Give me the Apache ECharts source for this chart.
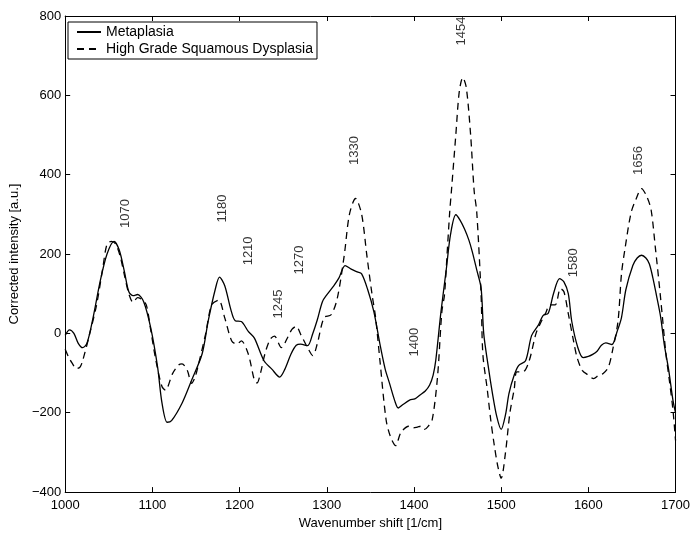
<!DOCTYPE html>
<html>
<head>
<meta charset="utf-8">
<script src="https://cdn.jsdelivr.net/npm/echarts@6/dist/echarts.min.js"></script>
<style>
html,body{margin:0;padding:0;background:#fff;}
#chart{width:693px;height:535px;}
</style>
</head>
<body>
<div id="chart"></div>
<script>
// Metaplasia (solid)
var metaX = [1000,1005,1010,1015,1020,1025,1032,1040,1048,1056,1062,1068,1073,1078,1083,1090,1098,1106,1111,1117,1122,1134,1145,1157,1164,1172,1177,1183,1190,1195,1202,1210,1217,1228,1237,1246,1252,1259,1265,1270,1278,1284,1289,1295,1300,1308,1314,1321,1328,1335,1340,1347,1354,1361,1367,1372,1378,1382,1387,1395,1401,1407,1413,1418,1422,1425,1431,1437,1442,1448,1453,1458,1463,1467,1472,1477,1480,1485,1490,1495,1500,1505,1509,1515,1520,1528,1535,1543,1548,1554,1560,1567,1572,1577,1581,1588,1594,1600,1605,1610,1615,1620,1627,1633,1638,1643,1651,1656,1661,1666,1670,1674,1678,1683,1687,1692,1697,1700];
var metaY = [-5,9,0,-25,-36,-25,40,130,200,232,210,155,105,95,98,80,15,-85,-175,-224,-220,-176,-118,-52,31,110,142,120,60,32,30,5,-12,-69,-90,-110,-90,-52,-30,-27,-31,0,33,80,97,120,140,171,162,155,150,110,55,-27,-90,-126,-170,-188,-180,-168,-165,-155,-145,-130,-105,-68,55,160,250,299,285,263,235,205,160,114,0,-80,-151,-210,-242,-205,-151,-105,-81,-69,-5,22,45,51,100,138,130,100,30,-36,-61,-58,-53,-45,-30,-24,-28,5,40,110,171,190,197,190,175,140,97,40,-27,-90,-168,-200];
// High Grade Squamous Dysplasia (dashed)
var hgsdX = [1000,1004,1008,1013,1017,1020,1028,1036,1043,1048,1053,1058,1063,1068,1073,1078,1083,1088,1093,1098,1104,1111,1115,1123,1130,1134,1140,1145,1149,1153,1161,1168,1176,1183,1191,1197,1202,1210,1217,1220,1224,1229,1235,1240,1248,1255,1260,1265,1270,1278,1284,1289,1297,1305,1312,1320,1326,1333,1340,1346,1352,1356,1361,1368,1373,1379,1385,1394,1399,1404,1408,1412,1416,1421,1427,1432,1435,1438,1441,1443,1448,1452,1456,1460,1465,1469,1472,1477,1479,1484,1488,1492,1496,1500,1505,1510,1515,1518,1525,1532,1540,1546,1551,1556,1562,1568,1572,1577,1583,1587,1593,1600,1606,1612,1617,1623,1628,1634,1638,1642,1649,1655,1661,1667,1672,1677,1681,1685,1689,1693,1697,1700];
var hgsdY = [-40,-60,-75,-89,-85,-69,-2,72,163,225,232,225,195,146,100,78,90,85,72,10,-68,-134,-143,-102,-80,-77,-93,-126,-110,-77,-2,72,84,39,-19,-27,-19,-52,-118,-125,-100,-52,-15,-7,-36,-11,10,18,-2,-36,-56,-27,40,47,88,196,300,340,300,196,97,40,-69,-217,-260,-283,-250,-234,-238,-236,-234,-242,-235,-217,-110,55,97,200,306,360,500,610,645,620,500,360,306,97,-52,-140,-217,-280,-333,-365,-300,-201,-140,-97,-97,-70,0,30,51,72,72,113,105,50,-19,-60,-93,-105,-114,-105,-101,-85,-40,30,150,213,304,340,365,345,311,213,130,40,-52,-120,-192,-270];
// Peak annotations
var peakLabels = ['1070','1180','1210','1245','1270','1330','1400','1454','1580','1656'];
var peakX = [1069,1180,1210,1245,1269,1332,1401,1454,1583,1657];
var peakY = [302,315,208,74,185,461,-22,762,178,436];
var xTicks = [1000,1100,1200,1300,1400,1500,1600,1700];
var yTicks = [-400,-200,0,200,400,600,800];

function zip(a,b){var r=[];for(var i=0;i<a.length;i++)r.push([a[i],b[i]]);return r;}
var FONT = 'Liberation Sans, Arial, Helvetica, sans-serif';
var chart = echarts.init(document.getElementById('chart'));
function axisCommon(){return {
  axisLine:{show:true,onZero:false,lineStyle:{color:'#000',width:1}},
  axisTick:{show:true,inside:true,length:5,lineStyle:{color:'#000'}},
  splitLine:{show:false}
};}
chart.setOption({
  animation:false,
  backgroundColor:'#fff',
  grid:{left:62,right:15,top:16,bottom:35,show:false},
  legend:{
    orient:'vertical',left:68,top:22,
    borderColor:'#000',borderWidth:1,backgroundColor:'#fff',
    padding:[3,4,3,8],itemGap:3,itemWidth:24,itemHeight:12,
    itemStyle:{opacity:0},
    textStyle:{fontFamily:FONT,fontSize:14,color:'#000'},
    data:[{name:'Metaplasia'},{name:'High Grade Squamous Dysplasia'}]
  },
  xAxis:[
    Object.assign({type:'value',min:xTicks[0],max:xTicks[xTicks.length-1],interval:100,position:'bottom',
      name:'Wavenumber shift [1/cm]',nameLocation:'middle',nameGap:24,
      nameTextStyle:{fontFamily:FONT,fontSize:13,color:'#000'},
      axisLabel:{fontFamily:FONT,fontSize:13,color:'#000',margin:7,formatter:function(v){return String(v);}}},axisCommon()),
    Object.assign({type:'value',min:xTicks[0],max:xTicks[xTicks.length-1],interval:100,position:'top',axisLabel:{show:false}},axisCommon())
  ],
  yAxis:[
    Object.assign({type:'value',min:yTicks[0],max:yTicks[yTicks.length-1],interval:200,position:'left',
      name:'Corrected intensity [a.u.]',nameLocation:'middle',nameGap:44,nameRotate:90,
      nameTextStyle:{fontFamily:FONT,fontSize:13,color:'#000'},
      axisLabel:{fontFamily:FONT,fontSize:13,color:'#000',margin:4,formatter:function(v){return String(v).replace('-','\u2212');}}},axisCommon()),
    Object.assign({type:'value',min:yTicks[0],max:yTicks[yTicks.length-1],interval:200,position:'right',axisLabel:{show:false}},axisCommon())
  ],
  series:[
    {name:'Metaplasia',type:'line',data:zip(metaX,metaY),smooth:0.3,symbol:'none',
     lineStyle:{color:'#000',width:1.3,type:'solid'},itemStyle:{color:'#000'}},
    {name:'High Grade Squamous Dysplasia',type:'line',data:zip(hgsdX,hgsdY),smooth:0.3,symbol:'none',
     lineStyle:{color:'#000',width:1.3,type:[7,5]},itemStyle:{color:'#000'}},
    {name:'peaks',type:'scatter',symbolSize:0,silent:true,
     data:peakX.map(function(x,i){return {value:[x,peakY[i]],label:{formatter:peakLabels[i]}};}),
     label:{show:true,position:'inside',rotate:90,fontFamily:FONT,fontSize:13,color:'#000'}}
  ]
});
</script>
</body>
</html>
